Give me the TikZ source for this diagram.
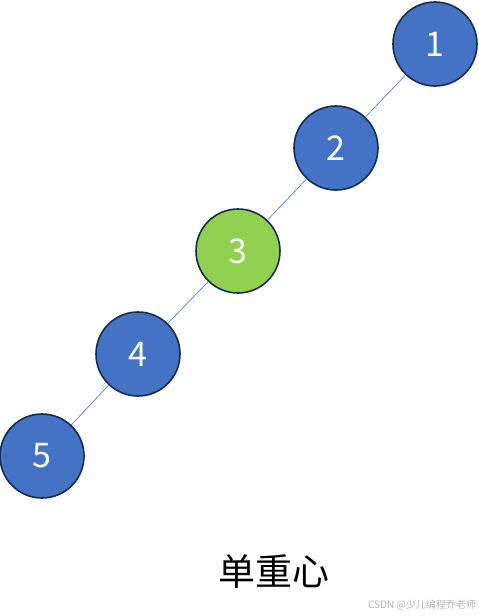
\documentclass[tikz,border=0pt]{standalone}
\usepackage{fontspec}
\setmainfont{Noto Sans CJK SC}
\usetikzlibrary{positioning}
\definecolor{Azul}{HTML}{4472C4}
\definecolor{Borde}{HTML}{172C51}
\definecolor{Verde}{HTML}{92D050}
\definecolor{Gris}{HTML}{B4B4B4}
\begin{document}
\begin{tikzpicture}[x=1pt,y=-1pt,
  nodo/.style={circle,draw=Borde,line width=1.6pt,fill=Azul,minimum size=84pt,inner sep=0pt,
    text=white,font=\fontsize{34}{34}\selectfont},
  arista/.style={Azul,line width=0.6pt}]
\useasboundingbox (0,0) rectangle (479,616);
\node[nodo] (n1) at (435,44) {1};
\node[nodo] (n2) at (336,148) {2};
\node[nodo,fill=Verde] (n3) at (238,251) {3};
\node[nodo] (n4) at (138,354) {4};
\node[nodo] (n5) at (42,456) {5};
\draw[arista] (n1)--(n2);
\draw[arista] (n2)--(n3);
\draw[arista] (n3)--(n4);
\draw[arista] (n4)--(n5);
\node[font=\fontsize{37}{37}\selectfont] (titulo) at (274,571) {单重心};
\node[Gris,font=\fontsize{10}{10}\selectfont] (marca) at (422,605) {CSDN @少儿编程乔老师};
\end{tikzpicture}
\end{document}
